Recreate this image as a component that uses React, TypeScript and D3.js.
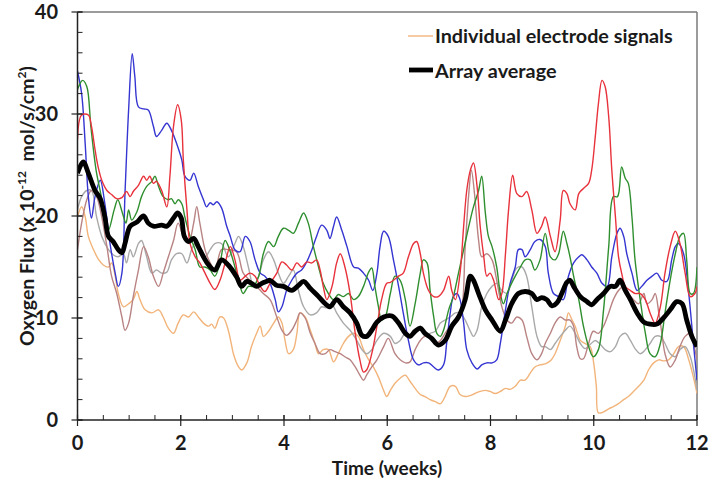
import React from "react";
import * as d3 from "d3";

type P = [number, number];

const xTicks = [0, 2, 4, 6, 8, 10, 12];
const yTicks = [0, 10, 20, 30, 40];
const xMinor = d3.range(0, 12.01, 0.5);
const yMinor = d3.range(0, 40.01, 2);

const legendLabels = ["Individual electrode signals", "Array average"];
const xTitle = "Time (weeks)";

const averageSeries: P[] = [
  [0, 24.2], [0.11, 25.3], [0.21, 24.2], [0.34, 22.5], [0.44, 21.7], [0.53, 19.9], [0.6, 18], [0.69, 17.5], [0.79, 16.7], [0.86, 16.4], [0.92, 17.3], [1.02, 19], [1.15, 19.4], [1.28, 20], [1.37, 19.3], [1.47, 19], [1.63, 19.1], [1.73, 19], [1.86, 19.8], [1.94, 20.3], [2.01, 19.8], [2.07, 18], [2.15, 17.5], [2.25, 17.8], [2.34, 17], [2.44, 16], [2.54, 15.2], [2.66, 14.7], [2.79, 15.7], [2.92, 15.2],
  [3.08, 14.05], [3.18, 13.1], [3.28, 13.6], [3.37, 13.4], [3.47, 13.1], [3.57, 13.4], [3.67, 13.6], [3.73, 13.7], [3.86, 13.2], [3.99, 13.1], [4.15, 12.7], [4.28, 13.2], [4.38, 13.6], [4.51, 12.9], [4.67, 12.1], [4.8, 11.4], [4.89, 11.1], [5.02, 11.8], [5.15, 11.1], [5.28, 10.5], [5.41, 9.5], [5.51, 8.3], [5.6, 8.2], [5.7, 8.8], [5.8, 9.6], [5.93, 10.1],
  [6.09, 10.2], [6.22, 9.5], [6.35, 8.5], [6.44, 8.2], [6.54, 8.7], [6.64, 9.0], [6.73, 8.5], [6.86, 8.0], [6.99, 7.35], [7.12, 7.8], [7.25, 9.2], [7.38, 10.1], [7.51, 11.8], [7.61, 14.1], [7.67, 13.7], [7.77, 12.4], [7.9, 10.8], [8.03, 9.8], [8.19, 8.7], [8.29, 9.8], [8.41, 11.4], [8.54, 12.4], [8.67, 12.6], [8.8, 12.4], [8.9, 11.8],
  [8.99, 12.0], [9.09, 11.8], [9.19, 11.2], [9.29, 11.5], [9.38, 12.4], [9.48, 13.5], [9.54, 13.7], [9.61, 13.1], [9.74, 12.1], [9.87, 11.6], [9.96, 11.3], [10.06, 11.8], [10.19, 12.4], [10.32, 13.1], [10.42, 13.1], [10.51, 13.7], [10.61, 12.7], [10.71, 11.8], [10.84, 10.5], [10.97, 9.6], [11.09, 9.4], [11.22, 9.4], [11.35, 10.0], [11.48, 10.8], [11.61, 11.6], [11.71, 11.4], [11.8, 9.8], [11.9, 8.2], [12, 7.2],
];

const blueSeries: P[] = [
  [0, 34.2], [0.08, 32], [0.15, 27], [0.21, 21.9], [0.27, 19.8], [0.34, 21.9], [0.44, 23.5], [0.53, 21.2], [0.63, 17.3], [0.73, 14.4], [0.79, 13.1], [0.86, 14.4], [0.92, 22.2], [0.99, 30.4], [1.06, 35.9], [1.11, 33.7], [1.18, 30.7], [1.28, 30.5], [1.37, 30.4], [1.47, 28.8], [1.53, 27.8], [1.63, 28.4], [1.73, 29.1], [1.82, 28.4], [1.92, 27.1], [2.02, 25.5], [2.08, 23.9], [2.18, 23.5], [2.25, 24.2], [2.34, 22.9], [2.44, 21.6], [2.5, 20.9], [2.57, 21.3], [2.63, 21.1], [2.7, 21.4], [2.79, 20.8], [2.89, 19],
  [2.96, 18], [3.05, 16.7], [3.15, 16.5], [3.25, 18], [3.34, 17.5], [3.44, 15.7], [3.54, 14.4], [3.63, 14.1], [3.73, 13.4], [3.83, 11.8], [3.89, 10.6], [3.96, 11.1], [4.05, 12.7], [4.15, 13.7], [4.25, 14.4], [4.34, 14.7], [4.44, 15.5], [4.54, 16.7], [4.63, 18], [4.73, 19.1], [4.83, 18.6], [4.89, 17.8], [4.96, 19], [5.02, 19.9], [5.12, 18.6], [5.22, 17], [5.35, 15], [5.44, 14.9], [5.54, 14.4], [5.64, 13.7], [5.72, 12.7], [5.8, 14.4], [5.86, 17], [5.93, 18.5],
  [6.02, 18], [6.12, 15.7], [6.22, 13.1], [6.31, 10.5], [6.41, 7.8], [6.51, 5.9], [6.61, 5.4], [6.7, 5.6], [6.8, 5.6], [6.9, 5.2], [6.99, 4.9], [7.09, 5.4], [7.15, 7.5], [7.22, 10.5], [7.28, 12.1], [7.35, 12.4], [7.41, 11.8], [7.48, 9.5], [7.54, 6.9], [7.64, 5.6], [7.74, 5], [7.83, 5.4], [7.93, 5.6], [8.03, 5.6], [8.12, 5.9], [8.19, 7.5], [8.29, 10.8], [8.38, 13.4], [8.48, 15], [8.54, 16.7], [8.61, 16.7], [8.67, 16], [8.77, 16.7], [8.86, 17.5], [8.96, 17.7],
  [9.06, 17], [9.12, 14.4], [9.22, 12.4], [9.32, 12.1], [9.41, 11.8], [9.51, 14.1], [9.61, 15.4], [9.71, 16], [9.77, 16.2], [9.87, 15.7], [9.96, 15], [10.06, 14.4], [10.16, 13.4], [10.26, 13.1], [10.35, 16], [10.45, 18.3], [10.51, 18.8], [10.58, 18], [10.64, 16.3], [10.74, 14.4], [10.84, 12.7], [10.93, 13.1], [11.03, 13.7], [11.13, 14.1], [11.22, 14.4], [11.32, 13.7], [11.42, 13.6], [11.51, 15.7], [11.58, 17], [11.64, 17.3], [11.74, 16.3], [11.84, 12.4], [11.93, 7.5], [12, 3.9],
];

const redSeries: P[] = [
  [0, 27.5], [0.08, 29.9], [0.21, 29.9], [0.27, 28.8], [0.34, 26.5], [0.4, 24.8], [0.47, 23.5], [0.57, 22.5], [0.66, 22.1], [0.76, 21.7], [0.86, 21.8], [0.95, 22.4], [1.02, 21.9], [1.08, 22.4], [1.18, 23], [1.28, 23.9], [1.34, 23.5], [1.4, 23.9], [1.47, 23.2], [1.53, 23.4], [1.63, 22.5], [1.73, 20.9], [1.79, 23.9], [1.86, 28.8], [1.94, 30.9], [2.01, 29.4], [2.05, 25.5], [2.12, 20.6], [2.18, 17.3], [2.28, 16], [2.37, 15.4], [2.47, 14.4], [2.57, 13.4], [2.66, 12.8], [2.76, 13.7], [2.86, 15.4], [2.96, 17],
  [3.05, 15.7], [3.15, 13.7], [3.25, 14.1], [3.34, 14.4], [3.44, 14.1], [3.54, 13.1], [3.63, 12.6], [3.73, 13.4], [3.86, 14.4], [3.96, 15.5], [4.05, 15.2], [4.15, 14.7], [4.25, 15.4], [4.34, 15], [4.44, 15.5], [4.54, 15.4], [4.63, 15.7], [4.7, 14.7], [4.76, 13.1], [4.83, 11.8], [4.93, 13.1], [5.02, 15.4], [5.09, 16.3], [5.18, 15], [5.28, 12.4], [5.38, 8.5], [5.47, 5.9], [5.54, 4.7], [5.6, 4.9], [5.7, 6.5], [5.8, 9.2], [5.89, 11.8], [5.99, 13.4],
  [6.06, 13.5], [6.12, 13.7], [6.22, 14.1], [6.31, 14.4], [6.41, 16], [6.51, 17.3], [6.57, 17.5], [6.64, 16.3], [6.7, 14.4], [6.8, 12.7], [6.9, 12.1], [6.99, 12.1], [7.09, 12.7], [7.19, 14.1], [7.25, 12.7], [7.32, 11.8], [7.41, 14.4], [7.48, 19], [7.54, 22.5], [7.61, 24.5], [7.67, 25.2], [7.74, 22.9], [7.8, 19], [7.87, 16], [7.93, 14.1], [7.99, 14.4], [8.06, 13.7], [8.16, 11.8], [8.22, 12.4], [8.29, 16.3], [8.35, 20.6], [8.43, 24], [8.51, 22.2], [8.61, 21.9], [8.7, 22.4], [8.8, 20.6], [8.9, 18.3],
  [8.99, 19], [9.06, 19.9], [9.16, 18], [9.25, 16.5], [9.35, 19.6], [9.41, 22.5], [9.48, 22.2], [9.54, 21.2], [9.64, 20.6], [9.71, 22.2], [9.8, 22.7], [9.9, 23.2], [9.96, 24.5], [10.03, 27.8], [10.09, 31], [10.16, 33.3], [10.22, 32.7], [10.29, 29.7], [10.35, 24.5], [10.42, 19.9], [10.48, 16], [10.54, 14.4], [10.61, 13.1], [10.71, 12.7], [10.8, 12.4], [10.9, 12.4], [11.0, 11.8], [11.09, 10.5], [11.19, 9.5], [11.29, 11.1], [11.38, 14.4], [11.48, 17], [11.58, 18.5], [11.67, 17.3], [11.77, 14.4], [11.87, 12.1], [11.96, 12.4], [12, 13.1],
];

const greenSeries: P[] = [
  [0, 32.4], [0.1, 33.3], [0.18, 32.7], [0.26, 28.7], [0.36, 24.5], [0.45, 22.2], [0.55, 19.6], [0.6, 18.6], [0.71, 20.6], [0.78, 21.6], [0.87, 20.3], [0.94, 19.3], [0.99, 20.6], [1.05, 19.6], [1.15, 20.4], [1.24, 21.9], [1.34, 22.9], [1.44, 23.4], [1.5, 23.9], [1.57, 22.9], [1.66, 21.9], [1.76, 21.6], [1.82, 21.7], [1.89, 21.2], [1.95, 21.6], [2.02, 21.2], [2.08, 19.9], [2.18, 18], [2.28, 16.7], [2.37, 15], [2.47, 15], [2.57, 14.7], [2.66, 14.1], [2.76, 15.4], [2.86, 17.6], [2.96, 16.5],
  [3.05, 15], [3.15, 13.1], [3.21, 12.4], [3.31, 13.1], [3.41, 13.1], [3.51, 14.1], [3.6, 16.3], [3.7, 17.5], [3.8, 17], [3.89, 18], [3.99, 18.8], [4.09, 18.6], [4.18, 18.3], [4.28, 19.3], [4.38, 20.3], [4.47, 19.3], [4.57, 17], [4.67, 15], [4.76, 13.4], [4.86, 12.4], [4.96, 11.8], [5.05, 12.3], [5.15, 12.1], [5.25, 12.4], [5.35, 11.8], [5.44, 12.1], [5.54, 13.1], [5.64, 14.5], [5.7, 14.9], [5.76, 13.1], [5.83, 11.1], [5.89, 9.8], [5.96, 10.1],
  [6.06, 12.4], [6.15, 14.1], [6.25, 13.7], [6.35, 11.8], [6.44, 9.2], [6.54, 11.4], [6.64, 14.4], [6.7, 15.7], [6.77, 15.4], [6.83, 12.7], [6.9, 10.1], [6.96, 8.5], [7.03, 8.2], [7.09, 8.8], [7.19, 10.8], [7.28, 12.1], [7.38, 14.4], [7.48, 16.7], [7.58, 19], [7.67, 20.9], [7.77, 22.5], [7.83, 23.9], [7.9, 20.3], [7.96, 18], [8.03, 17], [8.12, 15], [8.19, 12.4], [8.25, 11.4], [8.32, 12.4], [8.38, 13.1], [8.48, 14.1], [8.58, 15], [8.67, 15.7], [8.77, 15.7], [8.86, 14.7], [8.96, 15.7],
  [9.06, 18.3], [9.16, 16], [9.25, 15.7], [9.32, 16.3], [9.41, 18.5], [9.48, 17.3], [9.54, 16], [9.61, 14.1], [9.71, 11.8], [9.8, 9.2], [9.9, 7.2], [9.99, 6.2], [10.09, 6.9], [10.19, 10.8], [10.29, 17], [10.38, 21.9], [10.46, 21.9], [10.54, 24.8], [10.61, 23.7], [10.67, 23.2], [10.74, 19.9], [10.8, 15.7], [10.9, 11.8], [11.0, 8.5], [11.09, 6.5], [11.19, 6.2], [11.29, 7.5], [11.38, 10.5], [11.48, 13.7], [11.58, 16.3], [11.67, 18], [11.74, 18.3], [11.8, 15.7], [11.87, 12.4], [11.93, 12.4], [12, 15],
];

const graySeries: P[] = [
  [0, 20.6], [0.08, 21.9], [0.18, 22.5], [0.27, 22.5], [0.37, 19.9], [0.47, 18], [0.6, 16.7], [0.69, 16.2], [0.79, 16], [0.89, 16.3], [0.95, 15.4], [1.02, 16.7], [1.08, 16], [1.18, 17.3], [1.24, 17.6], [1.34, 16], [1.44, 14.4], [1.53, 14.7], [1.63, 14.4], [1.73, 14.5], [1.82, 15.7], [1.92, 16.3], [2.02, 16.3], [2.12, 15.4], [2.21, 16.7], [2.28, 17.3], [2.37, 16.8], [2.47, 16], [2.57, 16.7], [2.66, 17.3], [2.79, 17.3], [2.92, 16],
  [3.05, 17.3], [3.12, 18], [3.21, 17], [3.31, 15], [3.41, 13.1], [3.51, 14.1], [3.6, 15.7], [3.7, 16.5], [3.8, 15.7], [3.89, 14.4], [3.99, 13.4], [4.09, 14.1], [4.18, 14.7], [4.28, 12.7], [4.38, 11.1], [4.51, 10.3], [4.63, 10.5], [4.73, 11.1], [4.83, 11], [4.93, 11.3], [5.02, 10.5], [5.15, 9.5], [5.28, 8.8], [5.41, 7.8], [5.51, 6.9], [5.6, 6.5], [5.7, 6.9], [5.8, 7.8], [5.93, 8.5],
  [6.06, 8.2], [6.15, 7.5], [6.25, 7.8], [6.35, 8.5], [6.44, 8.2], [6.54, 8.8], [6.64, 9.2], [6.73, 8.2], [6.83, 8.5], [6.93, 8.7], [7.03, 9.5], [7.12, 9.8], [7.22, 10.1], [7.32, 10.5], [7.41, 10.5], [7.51, 9.8], [7.61, 8.7], [7.67, 8.2], [7.74, 8.8], [7.83, 11.1], [7.93, 12.4], [8.03, 13.1], [8.12, 13.4], [8.22, 12.7], [8.32, 12.4], [8.41, 13.7], [8.51, 14.9], [8.61, 15], [8.7, 14.1], [8.8, 11.1], [8.9, 8.2], [8.99, 7.2],
  [9.06, 7.2], [9.16, 6.9], [9.25, 7.5], [9.35, 8.2], [9.45, 8.8], [9.54, 9.2], [9.64, 8.5], [9.74, 7.5], [9.83, 7], [9.93, 7.4], [10.03, 7.8], [10.13, 7.4], [10.22, 6.9], [10.32, 6.7], [10.42, 7.2], [10.51, 8.2], [10.61, 8.5], [10.71, 7.8], [10.8, 7], [10.9, 6.5], [11.0, 6.9], [11.09, 7.5], [11.19, 8.2], [11.29, 8.2], [11.38, 7.5], [11.48, 6.5], [11.58, 6.2], [11.67, 6.9], [11.77, 7.2], [11.87, 6.2], [11.96, 4.2], [12, 2.9],
];

const mauveSeries: P[] = [
  [0, 16.7], [0.08, 19.3], [0.18, 21.6], [0.27, 22.5], [0.37, 21.9], [0.47, 19.9], [0.57, 17], [0.66, 14.1], [0.76, 12.4], [0.86, 10.1], [0.92, 8.8], [0.99, 9.5], [1.08, 12.1], [1.18, 14.7], [1.28, 17], [1.37, 16], [1.47, 14.1], [1.57, 13.1], [1.66, 14.4], [1.76, 16], [1.86, 17.6], [1.95, 19.3], [2.05, 18], [2.15, 17.3], [2.25, 19.3], [2.31, 20.9], [2.37, 19.3], [2.47, 16.7], [2.57, 15.4], [2.66, 14.7], [2.79, 16.7], [2.92, 16.7],
  [3.08, 16.5], [3.21, 14.4], [3.34, 13.7], [3.47, 13.1], [3.6, 12.4], [3.73, 11.8], [3.86, 10.1], [3.96, 8.8], [4.05, 8.3], [4.15, 8.8], [4.25, 9.8], [4.31, 10.5], [4.41, 10], [4.51, 8.5], [4.6, 7.5], [4.7, 6.5], [4.8, 6.5], [4.89, 6.9], [4.99, 6.7], [5.09, 6.5], [5.18, 6.2], [5.28, 5.9], [5.38, 5.2], [5.47, 4.4], [5.54, 3.9], [5.6, 4.4], [5.7, 5.2], [5.8, 5.9], [5.93, 7.2],
  [6.02, 8.0], [6.15, 6.5], [6.25, 5.9], [6.35, 5.6], [6.44, 5.7], [6.54, 6.9], [6.64, 7.8], [6.73, 8.2], [6.83, 8.0], [6.93, 7.5], [7.03, 7.8], [7.12, 8.5], [7.22, 9.2], [7.32, 9.8], [7.41, 10.1], [7.51, 17], [7.58, 22.2], [7.63, 24.5], [7.69, 22.2], [7.77, 17.6], [7.83, 16], [7.93, 16.3], [8.03, 15.7], [8.12, 13.7], [8.22, 11.1], [8.32, 9.8], [8.41, 9.5], [8.51, 10.1], [8.61, 9.8], [8.7, 8.2], [8.8, 6.5], [8.9, 5.9], [8.99, 6.5],
  [9.06, 7.5], [9.16, 8.5], [9.25, 9.5], [9.35, 10.1], [9.45, 9.8], [9.54, 9.8], [9.61, 9.2], [9.67, 7.2], [9.74, 6], [9.8, 6], [9.9, 7.5], [9.99, 8.7], [10.09, 8.5], [10.19, 9.2], [10.29, 10.5], [10.38, 11.8], [10.48, 12.7], [10.58, 13.1], [10.67, 12.4], [10.77, 11.8], [10.87, 11.4], [10.97, 12.4], [11.03, 11.4], [11.13, 11.8], [11.19, 12.4], [11.26, 10.5], [11.32, 8.5], [11.38, 6.5], [11.48, 5.2], [11.58, 5.9], [11.67, 7.2], [11.77, 8.2], [11.87, 8.5], [11.96, 6.9], [12, 5.9],
];

const tanSeries: P[] = [
  [0, 19.9], [0.08, 20.9], [0.15, 19.9], [0.21, 18], [0.31, 16.7], [0.4, 15.8], [0.5, 15.2], [0.6, 15], [0.66, 15.4], [0.73, 14.1], [0.79, 12.4], [0.89, 11.1], [0.99, 11.4], [1.08, 11.8], [1.15, 12.6], [1.21, 11.8], [1.31, 10.8], [1.44, 10.5], [1.57, 10.8], [1.66, 10.1], [1.76, 9], [1.86, 8.5], [1.95, 9.5], [2.05, 10.3], [2.15, 10.1], [2.25, 10.6], [2.34, 10.1], [2.44, 9.5], [2.54, 9.2], [2.6, 9.4], [2.66, 9], [2.76, 10.1], [2.83, 10], [2.92, 8.8], [2.99, 7.2],
  [3.02, 6.5], [3.12, 5.2], [3.18, 4.9], [3.28, 5.6], [3.37, 7.2], [3.47, 8.5], [3.54, 9.2], [3.6, 8.2], [3.7, 8.7], [3.8, 9.5], [3.89, 10.1], [3.96, 9.5], [4.02, 7.8], [4.09, 6.5], [4.18, 6.9], [4.25, 8.5], [4.31, 10.5], [4.41, 10.1], [4.51, 8.8], [4.6, 7.5], [4.67, 6.5], [4.76, 6.9], [4.86, 6.9], [4.96, 5.7], [5.05, 6.5], [5.15, 7.5], [5.25, 8.2], [5.35, 8.5], [5.44, 8.2], [5.54, 6.9], [5.64, 5.9], [5.73, 5.2], [5.83, 4.2], [5.93, 2.9], [5.99, 2.3],
  [6.06, 2.9], [6.15, 3.6], [6.25, 4.1], [6.35, 4.4], [6.44, 3.8], [6.54, 3.1], [6.64, 2.5], [6.73, 2.3], [6.83, 2], [6.93, 1.8], [7.03, 1.6], [7.12, 2.3], [7.22, 3.3], [7.32, 3.3], [7.41, 2.5], [7.51, 2.3], [7.61, 2.4], [7.7, 2.6], [7.8, 2.8], [7.9, 2.9], [7.99, 2.8], [8.09, 2.6], [8.19, 2.8], [8.29, 3.1], [8.38, 3.0], [8.48, 3.3], [8.58, 3.9], [8.67, 3.9], [8.77, 4.6], [8.86, 5.2], [8.96, 5.4],
  [9.06, 5.5], [9.16, 5.8], [9.25, 6.5], [9.35, 7.8], [9.45, 9.2], [9.51, 10.5], [9.58, 9.8], [9.64, 9.2], [9.74, 7.8], [9.83, 7.5], [9.93, 7.2], [9.99, 5.9], [10.05, 3.3], [10.09, 0.7], [10.19, 0.8], [10.29, 1.1], [10.38, 1.3], [10.48, 1.6], [10.58, 2], [10.67, 2.3], [10.77, 2.8], [10.87, 3.3], [10.97, 3.9], [11.06, 4.9], [11.16, 5.6], [11.26, 5.9], [11.35, 5.8], [11.45, 5.9], [11.55, 6.5], [11.64, 7.2], [11.74, 7.2], [11.84, 5.9], [11.93, 4.2], [12, 2.6],
];

const electrodes: { data: P[]; color: string }[] = [
  { data: tanSeries, color: "#f2b47a" },
  { data: graySeries, color: "#a9a9a9" },
  { data: mauveSeries, color: "#b98383" },
  { data: blueSeries, color: "#3535d2" },
  { data: greenSeries, color: "#2f8f2f" },
  { data: redSeries, color: "#e8323c" },
];

const FONT = "Lato, 'Open Sans', sans-serif";

export default function App() {
  const W = 714;
  const H = 490;
  const x = d3.scaleLinear().domain([0, 12]).range([77.5, 697]);
  const y = d3.scaleLinear().domain([0, 40]).range([420, 12]);
  const line = d3
    .line<P>()
    .x((d) => x(d[0]))
    .y((d) => y(d[1]))
    .curve(d3.curveCatmullRom.alpha(0.5));

  return (
    <svg
      width={W}
      height={H}
      style={{ position: "absolute", left: 0, top: 0, background: "#fff" }}
      fontFamily={FONT}
    >
      <rect x={0} y={0} width={W} height={H} fill="#fff" />
      <line x1={x(0)} x2={x(12)} y1={y(40)} y2={y(40)} stroke="#7a7a7a" strokeWidth={1.5} />
      <line x1={x(12)} x2={x(12)} y1={y(40)} y2={y(0)} stroke="#7a7a7a" strokeWidth={1.5} />

      <defs>
        <clipPath id="plotclip">
          <rect x={x(0)} y={y(40)} width={x(12) - x(0)} height={y(0) - y(40)} />
        </clipPath>
      </defs>
      <g clipPath="url(#plotclip)">
        {electrodes.map((s, i) => (
          <path key={i} d={line(s.data) || ""} fill="none" stroke={s.color} strokeWidth={1.4} />
        ))}
        <path d={line(averageSeries) || ""} fill="none" stroke="#000" strokeWidth={4.8} strokeLinejoin="round" />
      </g>

      <line x1={x(0)} x2={x(0)} y1={y(40)} y2={y(0)} stroke="#222" strokeWidth={1.5} />
      <line x1={x(0)} x2={x(12)} y1={y(0)} y2={y(0)} stroke="#222" strokeWidth={1.5} />
      {yMinor.map((v) => (
        <line key={"ym" + v} x1={x(0)} x2={x(0) + 5} y1={y(v)} y2={y(v)} stroke="#222" strokeWidth={1} />
      ))}
      {yTicks.map((v) => (
        <g key={"y" + v}>
          <line x1={x(0) - 6} x2={x(0) + 5} y1={y(v)} y2={y(v)} stroke="#222" strokeWidth={1.2} />
          <text x={58} y={y(v)} dy="0.36em" textAnchor="end" fontSize={20} fontWeight={700} fill="#1a1a1a">
            {v}
          </text>
        </g>
      ))}
      {xMinor.map((v) => (
        <line key={"xm" + v} x1={x(v)} x2={x(v)} y1={y(0) - 5} y2={y(0)} stroke="#222" strokeWidth={1} />
      ))}
      {xTicks.map((v) => (
        <g key={"x" + v}>
          <line x1={x(v)} x2={x(v)} y1={y(0) - 5} y2={y(0) + 6} stroke="#222" strokeWidth={1.2} />
          <text x={x(v)} y={450} textAnchor="middle" fontSize={20} fontWeight={700} fill="#1a1a1a">
            {v}
          </text>
        </g>
      ))}

      <text x={387} y={475} textAnchor="middle" fontSize={19} fontWeight={700} fill="#1a1a1a">
        {xTitle}
      </text>
      <text transform="translate(34,206) rotate(-90)" textAnchor="middle" fontSize={19.5} fontWeight={700} fill="#1a1a1a">
        <tspan>Oxygen Flux (x 10</tspan>
        <tspan fontSize={12} dy={-8}>-12</tspan>
        <tspan dy={8}>{"\u00a0 mol/s/cm"}</tspan>
        <tspan fontSize={12} dy={-8}>2</tspan>
        <tspan dy={8}>)</tspan>
      </text>

      <line x1={408} x2={433} y1={36} y2={36} stroke="#f2b47a" strokeWidth={1.4} />
      <text x={435} y={43} fontSize={19.8} fontWeight={700} fill="#1a1a1a">
        {legendLabels[0]}
      </text>
      <line x1={409} x2={433} y1={70} y2={70} stroke="#000" strokeWidth={4.8} />
      <text x={435} y={78} fontSize={19.8} fontWeight={700} fill="#1a1a1a">
        {legendLabels[1]}
      </text>
    </svg>
  );
}
